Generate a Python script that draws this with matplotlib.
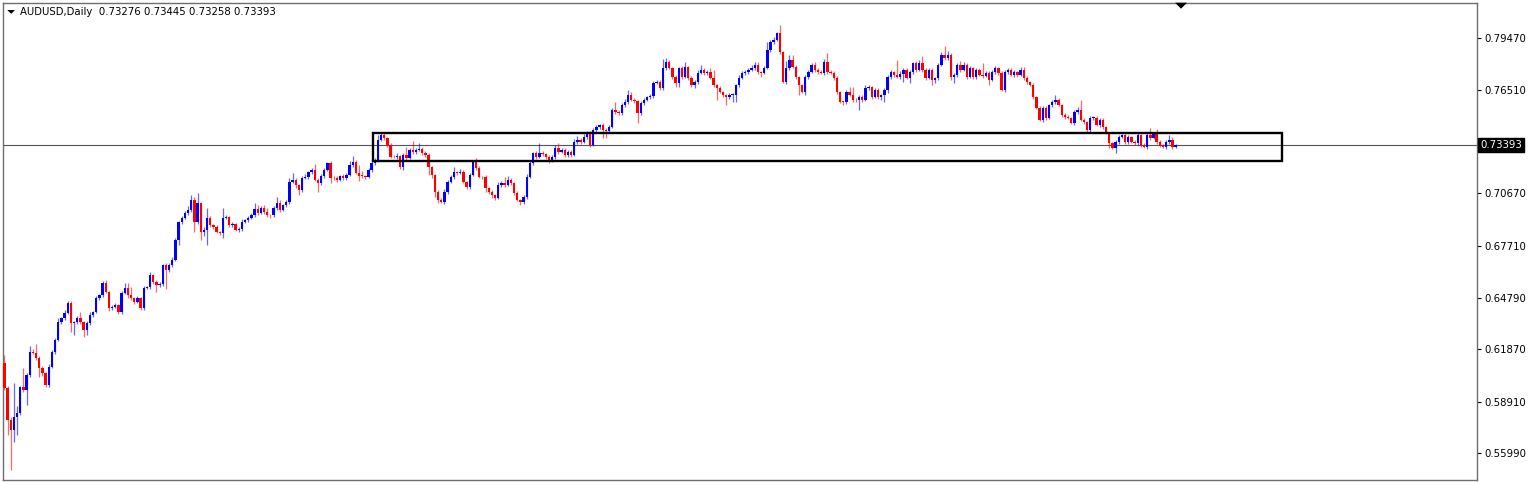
import matplotlib
matplotlib.use("Agg")
import matplotlib.pyplot as plt
import matplotlib.transforms as mtransforms
from matplotlib.patches import Rectangle, Polygon
import numpy as np

# ---------------- data ----------------
SYMBOL = "AUDUSD,Daily"
LAST_OHLC = [0.73276, 0.73445, 0.73258, 0.73393]
FIRST_OPEN = 0.6109

CLOSES = [
    0.5968, 0.5787, 0.5730, 0.5804, 0.5827, 0.5973, 0.5957, 0.6041, 0.6171, 0.6168,
    0.6137, 0.6081, 0.6053, 0.5985, 0.6086, 0.6171, 0.6239, 0.6341, 0.6363, 0.6392,
    0.6448, 0.6335, 0.6341, 0.6363, 0.6340, 0.6296, 0.6335, 0.6380, 0.6397, 0.6476,
    0.6493, 0.6561, 0.6510, 0.6420, 0.6425, 0.6437, 0.6397, 0.6505, 0.6533, 0.6493,
    0.6476, 0.6454, 0.6478, 0.6420, 0.6533, 0.6538, 0.6606, 0.6567, 0.6550, 0.6553,
    0.6663, 0.6635, 0.6663, 0.6691, 0.6804, 0.6906, 0.6928, 0.6957, 0.6974, 0.7030,
    0.6906, 0.7013, 0.6849, 0.6861, 0.6928, 0.6889, 0.6877, 0.6849, 0.6844, 0.6928,
    0.6934, 0.6889, 0.6892, 0.6861, 0.6866, 0.6906, 0.6917, 0.6928, 0.6945, 0.6979,
    0.6957, 0.6985, 0.6962, 0.6945, 0.6943, 0.6985, 0.7013, 0.6974, 0.7002, 0.7019,
    0.7132, 0.7143, 0.7115, 0.7087, 0.7154, 0.7160, 0.7188, 0.7200, 0.7143, 0.7126,
    0.7166, 0.7200, 0.7239, 0.7154, 0.7152, 0.7143, 0.7166, 0.7154, 0.7171, 0.7228,
    0.7245, 0.7183, 0.7166, 0.7164, 0.7160, 0.7200, 0.7239, 0.7256, 0.7369, 0.7397,
    0.7380, 0.7341, 0.7273, 0.7271, 0.7279, 0.7216, 0.7284, 0.7267, 0.7313, 0.7301,
    0.7313, 0.7318, 0.7296, 0.7284, 0.7216, 0.7171, 0.7075, 0.7030, 0.7019, 0.7075,
    0.7132, 0.7160, 0.7188, 0.7183, 0.7190, 0.7132, 0.7103, 0.7171, 0.7245, 0.7211,
    0.7160, 0.7158, 0.7098, 0.7075, 0.7058, 0.7041, 0.7115, 0.7126, 0.7115, 0.7143,
    0.7126, 0.7070, 0.7030, 0.7019, 0.7047, 0.7160, 0.7239, 0.7296, 0.7273, 0.7296,
    0.7290, 0.7273, 0.7250, 0.7273, 0.7324, 0.7301, 0.7313, 0.7284, 0.7301, 0.7284,
    0.7358, 0.7369, 0.7358, 0.7386, 0.7409, 0.7341, 0.7426, 0.7442, 0.7454, 0.7426,
    0.7420, 0.7442, 0.7539, 0.7527, 0.7521, 0.7567, 0.7584, 0.7623, 0.7595, 0.7589,
    0.7522, 0.7578, 0.7595, 0.7612, 0.7615, 0.7691, 0.7697, 0.7663, 0.7776, 0.7810,
    0.7776, 0.7725, 0.7691, 0.7776, 0.7725, 0.7781, 0.7719, 0.7680, 0.7697, 0.7748,
    0.7765, 0.7748, 0.7753, 0.7719, 0.7680, 0.7663, 0.7640, 0.7623, 0.7612, 0.7623,
    0.7626, 0.7680, 0.7719, 0.7748, 0.7753, 0.7765, 0.7776, 0.7793, 0.7753, 0.7750,
    0.7776, 0.7878, 0.7923, 0.7934, 0.7974, 0.7866, 0.7697, 0.7776, 0.7821, 0.7781,
    0.7725, 0.7680, 0.7640, 0.7725, 0.7753, 0.7793, 0.7765, 0.7753, 0.7748, 0.7810,
    0.7753, 0.7748, 0.7719, 0.7640, 0.7584, 0.7582, 0.7640, 0.7623, 0.7595, 0.7593,
    0.7612, 0.7595, 0.7663, 0.7668, 0.7612, 0.7652, 0.7612, 0.7623, 0.7652, 0.7725,
    0.7753, 0.7736, 0.7725, 0.7742, 0.7765, 0.7719, 0.7753, 0.7804, 0.7765, 0.7804,
    0.7765, 0.7719, 0.7765, 0.7708, 0.7719, 0.7793, 0.7849, 0.7832, 0.7849, 0.7725,
    0.7736, 0.7793, 0.7765, 0.7793, 0.7725, 0.7776, 0.7725, 0.7765, 0.7736, 0.7733,
    0.7748, 0.7708, 0.7753, 0.7776, 0.7748, 0.7652, 0.7753, 0.7765, 0.7736, 0.7753,
    0.7736, 0.7765, 0.7719, 0.7697, 0.7680, 0.7612, 0.7550, 0.7482, 0.7550, 0.7493,
    0.7567, 0.7584, 0.7595, 0.7567, 0.7510, 0.7499, 0.7493, 0.7465, 0.7527, 0.7539,
    0.7482, 0.7471, 0.7426, 0.7493, 0.7496, 0.7454, 0.7482, 0.7442, 0.7409, 0.7352,
    0.7324, 0.7358, 0.7386, 0.7397, 0.7358, 0.7386, 0.7358, 0.7352, 0.7397, 0.7341,
    0.7329, 0.7397, 0.7380, 0.7409, 0.7358, 0.7341, 0.7329, 0.7358, 0.7369, 0.73276,
    0.73393,
]

UPPER_WICK_PIPS = [
    45, 10, 15, 192, 40, 8, 108, 10, 34, 15,
    51, 10, 12, 8, 15, 10, 12, 20, 8, 15,
    10, 12, 8, 10, 34, 8, 10, 15, 6, 12,
    8, 12, 17, 6, 10, 12, 8, 10, 28, 28,
    45, 8, 12, 6, 10, 8, 17, 6, 10, 12,
    8, 10, 12, 15, 10, 8, 12, 10, 20, 30,
    17, 58, 8, 15, 57, 10, 6, 12, 8, 57,
    10, 6, 12, 8, 10, 15, 6, 10, 12, 34,
    20, 10, 15, 25, 6, 10, 34, 17, 8, 12,
    22, 40, 10, 6, 12, 15, 8, 10, 33, 12,
    10, 8, 6, 12, 10, 15, 8, 10, 12, 20,
    34, 10, 45, 30, 8, 12, 15, 10, 28, 17,
    17, 8, 10, 12, 15, 8, 10, 46, 12, 51,
    10, 34, 12, 8, 10, 6, 8, 10, 12, 15,
    10, 12, 28, 8, 15, 10, 8, 12, 5, 20,
    10, 8, 12, 6, 10, 8, 15, 12, 34, 25,
    10, 8, 12, 6, 10, 15, 12, 5, 10, 56,
    10, 8, 12, 10, 15, 28, 10, 8, 12, 10,
    15, 20, 10, 15, 12, 8, 10, 12, 8, 10,
    8, 10, 8, 45, 12, 10, 15, 29, 17, 10,
    8, 12, 10, 8, 15, 10, 12, 10, 51, 22,
    11, 8, 10, 5, 12, 29, 8, 10, 12, 15,
    28, 10, 12, 23, 46, 8, 10, 6, 8, 12,
    10, 8, 15, 10, 12, 10, 17, 17, 17, 8,
    12, 45, 11, 15, 5, 45, 6, 40, 28, 28,
    10, 8, 6, 12, 10, 11, 17, 10, 12, 15,
    51, 10, 8, 10, 6, 8, 12, 28, 45, 10,
    12, 10, 17, 10, 8, 12, 10, 8, 10, 12,
    10, 8, 85, 15, 10, 8, 12, 6, 10, 17,
    40, 8, 10, 12, 8, 10, 17, 51, 20, 10,
    12, 10, 20, 15, 11, 10, 8, 12, 10, 68,
    10, 8, 12, 10, 8, 12, 10, 8, 12, 10,
    8, 16, 16, 10, 8, 12, 8, 10, 12, 10,
    8, 11, 28, 10, 8, 12, 10, 8, 12, 15,
    56, 10, 8, 12, 10, 8, 12, 10, 8, 6,
    8, 10, 12, 8, 10, 12, 8, 10, 17, 8,
    10, 12, 40, 5, 20, 10, 8, 12, 28, 17,
    5,
]

LOWER_WICK_PIPS = [
    10, 85, 225, 67, 100, 10, 12, 85, 10, 8,
    10, 51, 15, 10, 12, 8, 10, 6, 12, 10,
    8, 51, 68, 10, 8, 40, 30, 10, 12, 8,
    10, 12, 8, 15, 10, 8, 12, 10, 8, 15,
    10, 12, 8, 10, 12, 8, 10, 12, 40, 10,
    8, 110, 10, 12, 8, 28, 10, 8, 12, 10,
    57, 10, 45, 20, 85, 10, 12, 8, 10, 29,
    8, 10, 12, 8, 10, 12, 8, 10, 6, 12,
    10, 8, 12, 10, 15, 8, 10, 12, 8, 10,
    12, 8, 17, 29, 10, 8, 12, 10, 8, 51,
    10, 12, 8, 28, 10, 12, 8, 10, 12, 8,
    10, 6, 29, 12, 10, 8, 12, 10, 12, 8,
    10, 12, 8, 4, 10, 12, 16, 10, 8, 12,
    10, 8, 12, 10, 45, 15, 28, 17, 6, 10,
    12, 8, 10, 12, 8, 6, 12, 10, 8, 12,
    6, 10, 23, 12, 17, 10, 8, 12, 10, 8,
    12, 10, 8, 17, 12, 10, 8, 12, 10, 8,
    12, 10, 11, 8, 10, 12, 8, 11, 10, 12,
    8, 10, 12, 8, 10, 12, 8, 10, 12, 46,
    40, 10, 8, 12, 10, 8, 12, 10, 8, 12,
    57, 12, 10, 8, 12, 10, 8, 11, 10, 12,
    8, 10, 23, 23, 10, 8, 12, 12, 15, 10,
    8, 12, 10, 8, 12, 68, 8, 12, 45, 10,
    39, 42, 10, 8, 12, 10, 8, 10, 12, 25,
    10, 8, 12, 10, 8, 10, 6, 12, 10, 8,
    12, 57, 5, 17, 10, 8, 12, 10, 8, 12,
    10, 8, 12, 10, 6, 15, 10, 8, 12, 10,
    54, 10, 8, 12, 10, 8, 12, 15, 39, 20,
    10, 12, 8, 10, 45, 8, 28, 10, 12, 8,
    10, 12, 8, 28, 17, 10, 8, 12, 10, 15,
    34, 10, 12, 8, 10, 6, 12, 10, 8, 12,
    10, 28, 8, 12, 10, 8, 12, 10, 8, 12,
    10, 8, 12, 10, 8, 12, 6, 8, 10, 12,
    8, 10, 12, 8, 10, 12, 8, 6, 10, 12,
    8, 10, 12, 12, 10, 8, 12, 10, 8, 28,
    6, 28, 10, 8, 12, 10, 8, 12, 10, 12,
    8, 10, 12, 8, 10, 12, 8, 10, 12, 8,
    2,
]

Y_TICKS = [0.79470, 0.76510, 0.70670, 0.67710, 0.64790, 0.61870, 0.58910, 0.55990]
BID_PRICE = 0.73393
ZONE_TOP = 0.7409
ZONE_BOTTOM = 0.7250
ZONE_START_BAR = 116.4
ZONE_END_BAR = 403.6
SHIFT_MARK_BAR = 371.7

# ---------------- derived ----------------
closes = np.array(CLOSES)
opens = np.concatenate([[FIRST_OPEN], closes[:-1]])
up = np.array(UPPER_WICK_PIPS) * 0.0001
lo = np.array(LOWER_WICK_PIPS) * 0.0001
body_top = np.maximum(opens, closes)
body_bot = np.minimum(opens, closes)
highs = body_top + up
lows = body_bot - lo
n = len(closes)
x = np.arange(n)
bull = closes >= opens

BLUE = "#0000FF"
RED = "#FF0000"

W, H = 1536, 482
fig = plt.figure(figsize=(W / 100, H / 100), dpi=100)
fig.patch.set_facecolor("white")

left_px, right_px = 3, 1477
top_px, bot_px = 2.7, 480
ax = fig.add_axes([left_px / W, (H - bot_px) / H, (right_px - left_px) / W, (bot_px - top_px) / H])
ax.set_facecolor("white")

ax.set_xlim(-0.47, 465.2)
ax.set_ylim(0.5448, 0.81447)

# bid line
ax.axhline(BID_PRICE, color="#555555", lw=0.8, zorder=1)

# wicks
wick_cols = np.where(bull, BLUE, RED)
ax.vlines(x, lows, highs, colors=wick_cols, linewidth=0.9, alpha=0.6, zorder=2)

# bodies
heights = np.maximum(body_top - body_bot, 0.00045)
ax.bar(x, heights, bottom=body_bot, width=0.74, color=wick_cols, linewidth=0, zorder=3)

# zone rectangle
ax.add_patch(Rectangle((ZONE_START_BAR, ZONE_BOTTOM), ZONE_END_BAR - ZONE_START_BAR,
                       ZONE_TOP - ZONE_BOTTOM, fill=False, edgecolor="black", lw=1.7, zorder=5))

# shift marker at top
trans_xa = mtransforms.blended_transform_factory(ax.transData, ax.transAxes)
mark_w = 12 / 3.1654
ax.add_patch(Polygon([[SHIFT_MARK_BAR - mark_w / 2, 1.0], [SHIFT_MARK_BAR + mark_w / 2, 1.0],
                      [SHIFT_MARK_BAR, 1.0 - 6 / 477.3]], closed=True, transform=trans_xa,
                     facecolor="black", edgecolor="none", zorder=6, clip_on=False))

# axes frame
for s in ax.spines.values():
    s.set_color("#6e6e6e")
    s.set_linewidth(1.0)

ax.set_xticks([])
ax.yaxis.tick_right()
ax.set_yticks(Y_TICKS)
ax.set_yticklabels([f"{v:.5f}" for v in Y_TICKS])
ax.tick_params(axis="y", which="major", length=3, width=0.8, color="black",
               labelsize=7.3, pad=2, labelcolor="black")

# bid price label
trans_ad = mtransforms.blended_transform_factory(ax.transAxes, ax.transData)
ax.text(1.0 + 3.5 / (right_px - left_px), BID_PRICE, f"{BID_PRICE:.5f}", transform=trans_ad,
        ha="left", va="center", fontsize=7.3, color="white",
        bbox=dict(boxstyle="square,pad=0.2", facecolor="black", edgecolor="black"),
        clip_on=False, zorder=7)

# header
fig.add_artist(Polygon([[7.3 / W, (H - 10) / H], [15 / W, (H - 10) / H], [11.2 / W, (H - 13.8) / H]],
                       closed=True, transform=fig.transFigure, facecolor="black", edgecolor="none"))
header = SYMBOL + "  " + " ".join(f"{v:.5f}" for v in LAST_OHLC)
fig.text(20.5 / W, (H - 12) / H, header, ha="left", va="center", fontsize=7.3, color="black")

fig.savefig("out.png", dpi=100, facecolor="white")
